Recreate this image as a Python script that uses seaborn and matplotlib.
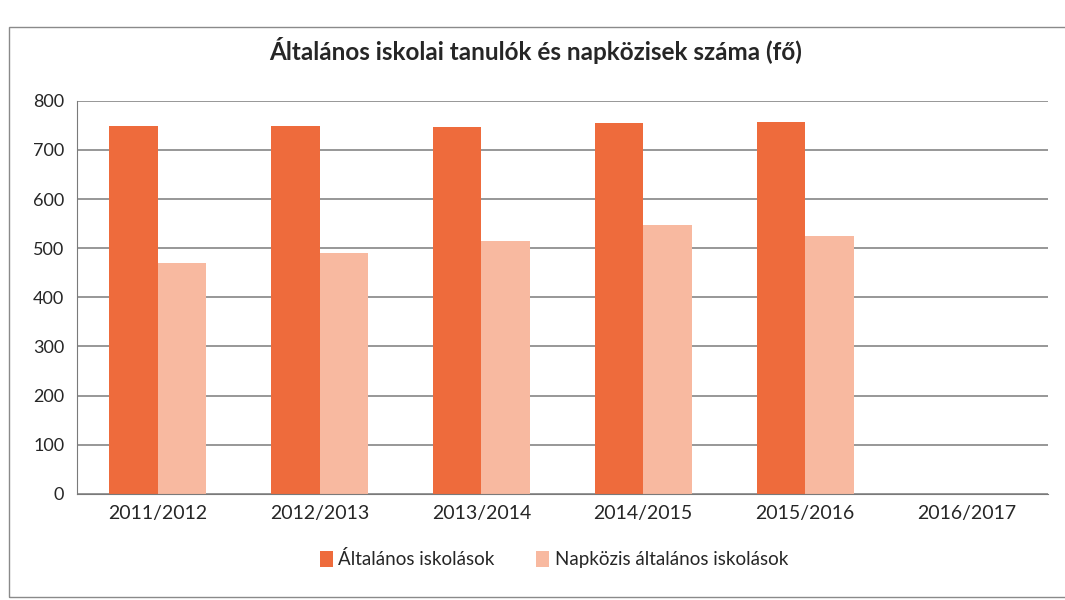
import seaborn as sns
import pandas as pd
import matplotlib.pyplot as plt
import numpy as np

# school years and the two series (fő)
years = ['2011/2012', '2012/2013', '2013/2014', '2014/2015', '2015/2016', '2016/2017']
altalanos = [748, 748, 747, 754, 756, np.nan]
napkozis = [469, 491, 515, 548, 525, np.nan]
series_names = ['Általános iskolások', 'Napközis általános iskolások']
colors = ['#EE6B3C', '#F8B9A0']

df = pd.DataFrame({
    'ev': years * 2,
    'fo': altalanos + napkozis,
    'sorozat': [series_names[0]] * len(years) + [series_names[1]] * len(years),
})

sns.set_style('white')
plt.rcParams['font.family'] = ['Lato', 'DejaVu Sans']

fig = plt.figure(figsize=(10.65, 6), dpi=100)
ax = fig.add_axes([0.072, 0.177, 0.912, 0.655])

sns.barplot(data=df, x='ev', y='fo', hue='sorozat', order=years, hue_order=series_names,
            palette=colors, width=0.6, errorbar=None, saturation=1, linewidth=0, ax=ax)

ax.set_ylim(0, 800)
ax.set_yticks(range(0, 801, 100))
ax.yaxis.grid(True, color='#7a7a7a', linewidth=1.1)
ax.set_axisbelow(True)
ax.set_xlabel('')
ax.set_ylabel('')
for s in ['top', 'right']:
    ax.spines[s].set_visible(False)
ax.spines['left'].set_color('#7a7a7a')
ax.spines['bottom'].set_color('#7a7a7a')
ax.tick_params(axis='y', length=5, color='#7a7a7a', labelsize=13, pad=4)
ax.tick_params(axis='x', length=0, labelsize=14, pad=8)

ax.legend_.remove()
handles, labels = ax.get_legend_handles_labels()
fig.legend(handles, labels, loc='center', bbox_to_anchor=(0.52, 0.068), ncol=2, frameon=False,
           fontsize=13.5, handlelength=0.7, handleheight=0.9, handletextpad=0.3, columnspacing=2.2)

fig.text(0.503, 0.915, 'Általános iskolai tanulók és napközisek száma (fő)',
         ha='center', va='center', fontsize=17.5, fontweight='bold')

# chart frame
fig.patches.append(plt.Rectangle((0.008, 0.005), 1.2, 0.95, transform=fig.transFigure,
                                 fill=False, edgecolor='#8a8a8a', linewidth=1))

plt.savefig('out.png', dpi=100)
